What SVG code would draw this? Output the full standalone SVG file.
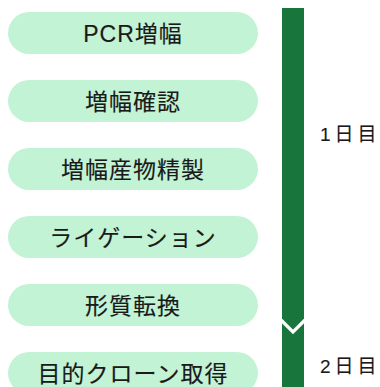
<svg xmlns="http://www.w3.org/2000/svg" width="380" height="387" viewBox="0 0 380 387">
<style>
.pill{fill:#c3f3d5}
.pt{font-family:"Liberation Sans","Noto Sans CJK JP",sans-serif;font-size:23px;fill:#1a1a1a;text-anchor:middle;letter-spacing:1px;stroke:#1a1a1a;stroke-width:0.15px}
.day{font-family:"Liberation Sans","Noto Sans CJK JP",sans-serif;font-size:19px;fill:#1a1a1a;letter-spacing:4px;stroke:#1a1a1a;stroke-width:0.1px}
</style>
<rect width="380" height="387" fill="#ffffff"/>
<g id="connectors">
<rect x="282" y="8" width="22" height="379" fill="#18763c"/>
<polyline points="281,320 293,332 305,320" fill="none" stroke="#ffffff" stroke-width="3.2"/>
</g>
<g id="n1"><rect class="pill" x="8" y="12" width="250" height="42" rx="21"/><text class="pt" x="133" y="42">PCR増幅</text></g>
<g id="n2"><rect class="pill" x="8" y="80" width="250" height="42" rx="21"/><text class="pt" x="133" y="110">増幅確認</text></g>
<g id="n3"><rect class="pill" x="8" y="148" width="250" height="42" rx="21"/><text class="pt" x="133" y="178">増幅産物精製</text></g>
<g id="n4"><rect class="pill" x="8" y="216" width="250" height="42" rx="21"/><text class="pt" x="133" y="246">ライゲーション</text></g>
<g id="n5"><rect class="pill" x="8" y="284" width="250" height="42" rx="21"/><text class="pt" x="133" y="314">形質転換</text></g>
<g id="n6"><rect class="pill" x="8" y="352" width="250" height="42" rx="21"/><text class="pt" x="133" y="382">目的クローン取得</text></g>
<g id="d1"><text class="day" x="320" y="141">1日目</text></g>
<g id="d2"><text class="day" x="320" y="373">2日目</text></g>
</svg>
